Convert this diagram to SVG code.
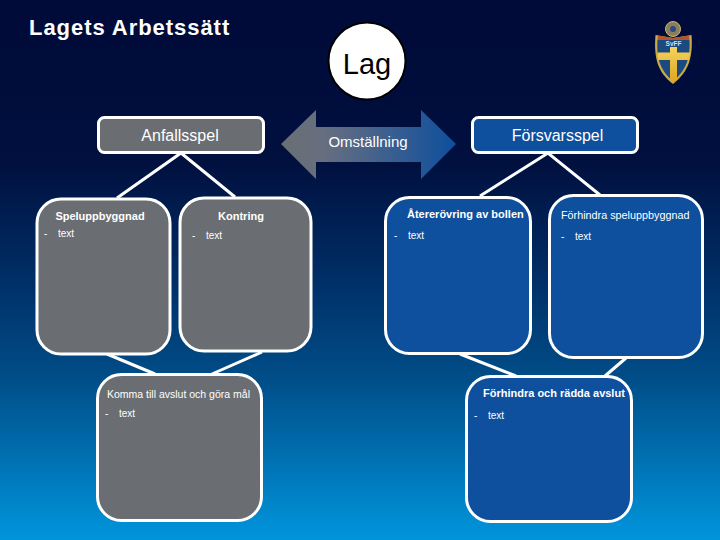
<svg xmlns="http://www.w3.org/2000/svg" width="720" height="540" viewBox="0 0 720 540">
<style>
text{font-family:"Liberation Sans",Arial,sans-serif;fill:#fff}
.g{fill:#6a6e73}.b{fill:#0e4f9e}
.n{stroke:#fff;stroke-width:3}
.big{font-size:16px}.t{font-size:10px}.h{font-size:11px;font-weight:bold}.r{font-size:10.500px}
.c{stroke:#fff;stroke-width:3;fill:none}
</style>
<defs>
<linearGradient id="bg" x1="0" y1="0" x2="0" y2="1">
<stop offset="0" stop-color="#000a38"/><stop offset="0.3" stop-color="#00103f"/><stop offset="0.5" stop-color="#002c63"/><stop offset="0.7" stop-color="#004d88"/><stop offset="1" stop-color="#0095dc"/>
</linearGradient>
<linearGradient id="ar" x1="0" y1="0" x2="1" y2="0">
<stop offset="0" stop-color="#6a6e73"/><stop offset="0.25" stop-color="#666e80"/><stop offset="1" stop-color="#0e4f9e"/>
</linearGradient>
<linearGradient id="cr" x1="0" y1="0" x2="0" y2="1"><stop offset="0" stop-color="#f4d25a"/><stop offset="1" stop-color="#e0a822"/></linearGradient>
</defs>
<rect width="720" height="540" fill="url(#bg)"/>
<text x="29" y="35" style="font-size:22px;font-weight:bold;letter-spacing:0.950px">Lagets Arbetssätt</text>
<g id="connectors">
<path class="c" d="M117 198L181 153L235 197"/>
<path class="c" d="M480 196L548 153L600 195"/>
<path class="c" d="M107 354L155 374"/>
<path class="c" d="M262 352L212 374"/>
<path class="c" d="M460 354L516 376"/>
<path class="c" d="M626 358L605 376"/>
</g>
<g id="lag"><circle cx="367" cy="61" r="38.500" fill="#fff" stroke="#000" stroke-width="2"/>
<text x="367" y="74" text-anchor="middle" style="font-size:29px;fill:#000">Lag</text></g>
<g id="omstallning"><path d="M281 144L316 110V127H421V110L456 144L421 179V162H316V179Z" fill="url(#ar)"/>
<text x="368" y="147" text-anchor="middle" style="font-size:15px">Omställning</text></g>
<g id="anfallsspel"><rect class="g n" x="98.500" y="117.500" width="165" height="35" rx="6"/>
<text x="180" y="141" text-anchor="middle" class="big">Anfallsspel</text></g>
<g id="forsvarsspel"><rect class="b n" x="472.500" y="117.500" width="165" height="35" rx="6"/>
<text x="557.500" y="141" text-anchor="middle" class="big">Försvarsspel</text></g>
<g id="speluppbyggnad"><rect class="g n" x="37" y="199" width="133" height="155" rx="24"/>
<text x="100" y="220" text-anchor="middle" class="h">Speluppbyggnad</text>
<text x="44" y="237" class="t">-</text><text x="58" y="237" class="t">text</text></g>
<g id="kontring"><rect class="g n" x="180" y="198" width="131" height="153" rx="24"/>
<text x="241" y="220" text-anchor="middle" class="h">Kontring</text>
<text x="192" y="239" class="t">-</text><text x="206" y="239" class="t">text</text></g>
<g id="atererovring"><rect class="b n" x="385.500" y="197.500" width="145" height="156" rx="24"/>
<text x="407" y="218" class="h">Återerövring av bollen</text>
<text x="394" y="239" class="t">-</text><text x="408" y="239" class="t">text</text></g>
<g id="forhindra-spel"><rect class="b n" x="549.500" y="195.500" width="153" height="162" rx="24"/>
<text x="561" y="219" style="font-size:10.800px">Förhindra speluppbyggnad</text>
<text x="561" y="240" class="t">-</text><text x="575" y="240" class="t">text</text></g>
<g id="komma"><rect class="g n" x="97.500" y="374.500" width="164" height="146" rx="24"/>
<text x="107" y="398" class="r">Komma till avslut och göra mål</text>
<text x="105" y="417" class="t">-</text><text x="119" y="417" class="t">text</text></g>
<g id="forhindra-radda"><rect class="b n" x="466.500" y="376.500" width="165" height="145" rx="24"/>
<text x="483" y="397" class="h">Förhindra och rädda avslut</text>
<text x="474" y="419" class="t">-</text><text x="488" y="419" class="t">text</text></g>
<g id="logo">
<circle cx="673" cy="29" r="7.500" fill="#8a7f5c" stroke="#c9b670" stroke-width="1"/>
<circle cx="673" cy="29" r="3" fill="#2b4a80"/>
<path d="M655.500 35L673 38L691.500 35C693 55 690 71 673 84C656 71 654 55 655.500 35Z" fill="#c9a94a"/>
<path d="M658 35.500L673 38L689 35.500L689.500 40H657.500Z" fill="#b5562a"/>
<path d="M657.500 40H689.500C690.500 56 687 70 673 81C659 70 656.500 56 657.500 40Z" fill="#1a4a80"/>
<path d="M670 47H677V52.500H689.800C689.700 55 689.500 57.500 689 60H677V80L673.500 81.500L670 80V60H658C657.700 57.500 657.500 55 657.400 52.500H670Z" fill="url(#cr)"/>
<text x="673.500" y="46" text-anchor="middle" style="font-size:6.500px;font-weight:bold;fill:#d8dce0">SvFF</text>
</g>
</svg>
